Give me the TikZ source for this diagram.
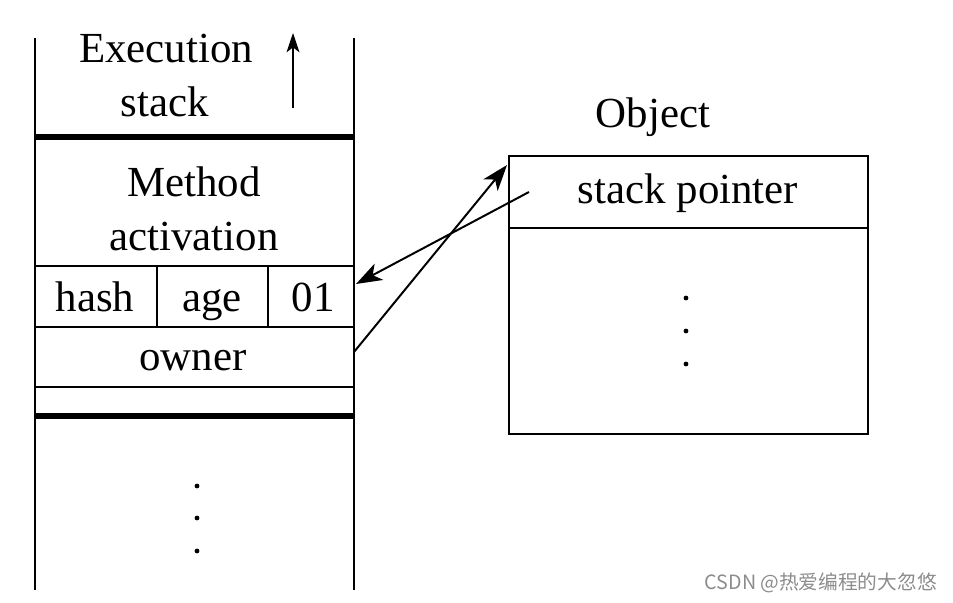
\documentclass[tikz,border=0pt]{standalone}
\usepackage{fontspec}
\setmainfont{Liberation Serif}
\newfontfamily\cjk{Noto Sans CJK SC}
\usetikzlibrary{arrows.meta}
\tikzset{lbl/.style={font=\fontsize{30.5}{38}\selectfont, inner sep=0pt, anchor=base},
  wall/.style={line width=1.4pt}, heavy/.style={line width=3.8pt},
  ptr/.style={line width=1.4pt, -{Stealth[length=6.5mm,width=4.6mm,inset=1.8mm]}}}
\begin{document}
\begin{tikzpicture}[x=0.25mm,y=-0.25mm]
   \useasboundingbox (0,0) rectangle (953,603);
   \draw[wall] (35,38)--(35,590);\draw[wall] (354,38)--(354,590);
   \draw[heavy] (35,137)--(354,137);\draw[heavy] (35,416)--(354,416);
   \draw[wall] (35,266)--(354,266);\draw[wall] (35,327)--(354,327);\draw[wall] (35,387)--(354,387);
   \draw[wall] (157,266)--(157,327);\draw[wall] (268,266)--(268,327);
   \node[lbl] (exec) at (166,63) {Execution};\node[lbl] (execb) at (165,117) {stack};
   \coordinate (up0) at (293,108);\coordinate (up1) at (293,33);
   \draw[wall, -{Stealth[length=4.8mm,width=3.2mm,inset=1.2mm]}] (up0)--(up1);
   \node[lbl] (meth) at (194,197) {Method};\node[lbl] (methb) at (194,251) {activation};
   \node[lbl] (hash) at (95,312) {hash};\node[lbl] (age) at (212,312) {age};\node[lbl] (bits) at (313,312) {01};
   \node[lbl] (owner) at (193,371) {owner};
   \foreach \y in {486,518,551} \fill (197,\y) circle (2.4);
   \draw[wall] (509,156) rectangle (868,434);\draw[wall] (509,228)--(868,228);
   \node[lbl] (obj) at (653,128) {Object};
   \node[lbl] (sp) at (688,204) {stack pointer};
   \foreach \y in {298,331,364} \fill (686,\y) circle (2.4);
   \coordinate (ownr) at (354,352);\coordinate (objtip) at (507,165);
   \coordinate (spsrc) at (529,192);\coordinate (hashtip) at (356,284);
   \draw[ptr] (ownr)--(objtip);\draw[ptr] (spsrc)--(hashtip);
   \node[font=\cjk\fontsize{14}{14}\selectfont, text=black!45, anchor=base east, inner sep=0pt] (mark) at (937,589) {CSDN @热爱编程的大忽悠};
\end{tikzpicture}
\end{document}
